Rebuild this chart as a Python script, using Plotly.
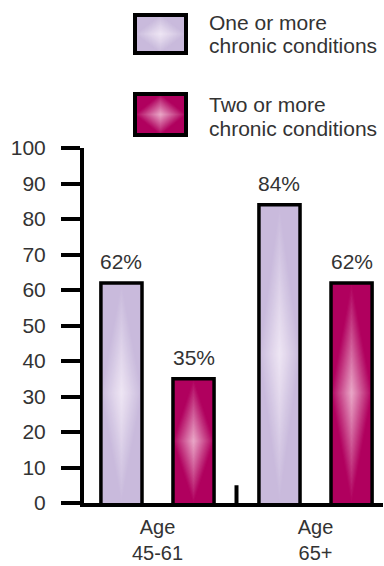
import plotly.graph_objects as go

# ---- data ----
groups = ["Age<br>45-61", "Age<br>65+"]
series_names = ["One or more chronic conditions", "Two or more chronic conditions"]
one_or_more = [62, 84]
two_or_more = [35, 62]
y_ticks = [0, 10, 20, 30, 40, 50, 60, 70, 80, 90, 100]

# ---- styling ----
W, H = 384, 566
L, R, T, B = 84, 1, 148, 63
FONT = "Liberation Sans, Arial, sans-serif"
TXT = "#333333"
styles = [
    {"base": (201, 186, 220), "center": (238, 230, 244)},   # lilac
    {"base": (176, 0, 94), "center": (234, 168, 200)},      # magenta
]
OFFSET = 0.228      # bar centre distance from group centre (x units)
BAR_W = 0.26        # bar body width (x units)
N_LAYERS = 18


def mix(c0, c1, f):
    return "rgb(%d,%d,%d)" % tuple(round(a + (b - a) * f) for a, b in zip(c0, c1))


def px_x(p):
    return (p - L) / (W - L - R)


def px_y(p):
    return (H - B - p) / (H - T - B)


fig = go.Figure()
values = [one_or_more, two_or_more]
xpos = [[g - OFFSET for g in range(len(groups))], [g + OFFSET for g in range(len(groups))]]

# solid bar bodies
for s, st in enumerate(styles):
    fig.add_trace(go.Bar(
        x=xpos[s], y=values[s], width=BAR_W, name=series_names[s],
        marker=dict(color=mix(st["base"], st["base"], 0), line=dict(width=0)),
        hoverinfo="skip", showlegend=False,
    ))

# diamond-shaped highlight inside each bar
for s, st in enumerate(styles):
    for k in range(N_LAYERS):
        sc = 1 - k / N_LAYERS
        xs, ys = [], []
        for xc, v in zip(xpos[s], values[s]):
            hw, hh = BAR_W / 2 * sc, v / 2 * sc
            ym = v / 2
            xs += [xc - hw, xc, xc + hw, xc, xc - hw, None]
            ys += [ym, ym + hh, ym, ym - hh, ym, None]
        fig.add_trace(go.Scatter(
            x=xs, y=ys, mode="lines", fill="toself",
            fillcolor=mix(st["base"], st["center"], (k + 0.5) / N_LAYERS),
            line=dict(width=0), hoverinfo="skip", showlegend=False,
        ))

# black outlines of the bars
for s in range(len(styles)):
    xs, ys = [], []
    for xc, v in zip(xpos[s], values[s]):
        x0, x1 = xc - BAR_W / 2, xc + BAR_W / 2
        xs += [x0, x0, x1, x1, None]
        ys += [0, v, v, 0, None]
    fig.add_trace(go.Scatter(
        x=xs, y=ys, mode="lines", line=dict(color="black", width=3.5),
        hoverinfo="skip", showlegend=False,
    ))

annotations = []
# value labels
for s in range(len(styles)):
    for xc, v in zip(xpos[s], values[s]):
        annotations.append(dict(
            x=xc, y=v, xref="x", yref="y", text=f"{v}%", showarrow=False,
            yanchor="bottom", yshift=8, font=dict(family=FONT, size=21, color=TXT),
        ))

shapes = []
# divider tick between the two age groups
shapes.append(dict(type="line", xref="x", yref="y", x0=0.5, x1=0.5, y0=0, y1=5,
                   line=dict(color="black", width=4)))

# legend swatches with the same diamond highlight
boxes = [(135, 186, 15, 53), (135, 186, 94, 135)]
for (bx0, bx1, by0, by1), st in zip(boxes, styles):
    shapes.append(dict(type="rect", xref="paper", yref="paper",
                       x0=px_x(bx0), x1=px_x(bx1), y0=px_y(by1), y1=px_y(by0),
                       fillcolor=mix(st["base"], st["base"], 0), line=dict(width=0)))
    cx, cy = (bx0 + bx1) / 2, (by0 + by1) / 2
    for k in range(N_LAYERS):
        sc = 1 - k / N_LAYERS
        hw, hh = (bx1 - bx0) / 2 * sc, (by1 - by0) / 2 * sc
        path = "M %f %f L %f %f L %f %f L %f %f Z" % (
            px_x(cx - hw), px_y(cy), px_x(cx), px_y(cy - hh),
            px_x(cx + hw), px_y(cy), px_x(cx), px_y(cy + hh))
        shapes.append(dict(type="path", xref="paper", yref="paper", path=path,
                           fillcolor=mix(st["base"], st["center"], (k + 0.5) / N_LAYERS),
                           line=dict(width=0)))
    shapes.append(dict(type="rect", xref="paper", yref="paper",
                       x0=px_x(bx0), x1=px_x(bx1), y0=px_y(by1), y1=px_y(by0),
                       line=dict(color="black", width=4)))

# legend texts
legend_lines = [(22, "One or more"), (46, "chronic conditions"),
                (105, "Two or more"), (128, "chronic conditions")]
for py, txt in legend_lines:
    annotations.append(dict(
        x=px_x(207), y=px_y(py), xref="paper", yref="paper", text=txt,
        showarrow=False, xanchor="left", yanchor="middle",
        font=dict(family=FONT, size=21, color=TXT),
    ))

fig.update_layout(
    width=W, height=H,
    margin=dict(l=L, r=R, t=T, b=B, pad=0, autoexpand=False),
    paper_bgcolor="white", plot_bgcolor="white",
    showlegend=False,
    bargap=0, barmode="overlay",
    annotations=annotations, shapes=shapes,
    xaxis=dict(
        range=[-0.465, 1.427], tickvals=list(range(len(groups))), ticktext=groups,
        showline=True, linewidth=4, linecolor="black", ticks="", showgrid=False,
        zeroline=False, ticklabelstandoff=3, automargin=False,
        tickfont=dict(family=FONT, size=20, color=TXT), fixedrange=True,
    ),
    yaxis=dict(
        range=[0, 100], tickvals=y_ticks, showline=True, linewidth=4, linecolor="black",
        ticks="outside", ticklen=19, tickwidth=4, tickcolor="black",
        showgrid=False, zeroline=False, ticklabelstandoff=11, automargin=False,
        tickfont=dict(family=FONT, size=21, color=TXT), fixedrange=True,
    ),
)

fig.write_html("out.html")
